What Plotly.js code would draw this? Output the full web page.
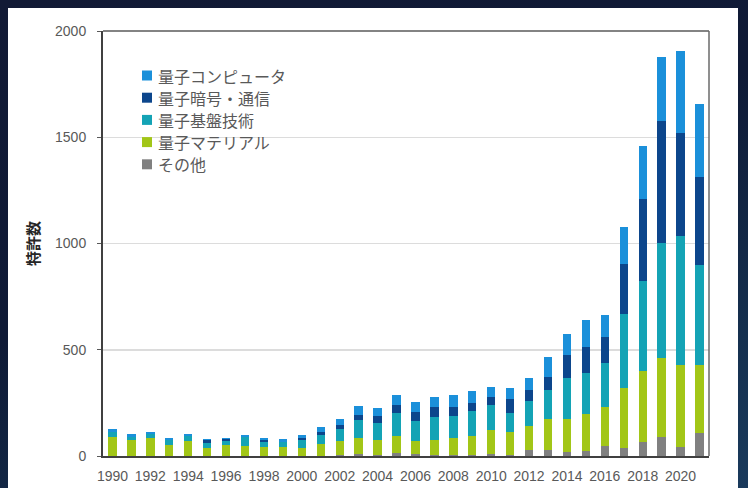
<!DOCTYPE html>
<html>
<head>
<meta charset="utf-8">
<script src="https://cdn.plot.ly/plotly-3.0.1.min.js"></script>
<style>
  html, body { margin: 0; padding: 0; width: 748px; height: 488px; overflow: hidden; }
  body {
    background: linear-gradient(160deg, #121a35 0%, #0f1a36 45%, #15304f 80%, #1a3a5c 100%);
    position: relative;
  }
  #chart { position: absolute; left: 8px; top: 8px; width: 730px; height: 480px; background: #ffffff; }
</style>
</head>
<body>
<div id="chart"></div>
<script>
// ---- data ----
const years = [1990,1991,1992,1993,1994,1995,1996,1997,1998,1999,
               2000,2001,2002,2003,2004,2005,2006,2007,2008,2009,
               2010,2011,2012,2013,2014,2015,2016,2017,2018,2019,2020,2021];

const seriesNames = ["その他", "量子マテリアル", "量子基盤技術", "量子暗号・通信", "量子コンピュータ"];

const other = [0,0,0,0,0,0,0,0,0,0,
               0,0,3,8,3,14,8,3,3,3,
               8,6,28,28,20,23,47,39,66,88,41,110];

const materials = [88,75,86,52,70,39,53,47,44,42,
                   40,58,68,79,73,81,63,73,81,89,
                   115,105,113,146,155,175,185,282,333,372,385,318];

const foundation = [25,16,19,22,23,20,17,41,22,23,
                    36,43,58,81,79,107,92,107,106,119,
                    115,92,117,135,192,194,208,349,423,541,607,471];

const cryptoComm = [2,0,0,3,0,14,9,3,9,2,
                    8,11,16,24,32,36,46,46,41,38,
                    38,63,52,64,106,120,120,235,388,577,487,416];

const computer = [13,13,9,6,9,6,8,9,9,11,
                  16,25,28,43,41,47,47,51,57,58,
                  49,52,55,92,99,130,102,174,250,302,387,341];

const yTicks = [0, 500, 1000, 1500, 2000];
const xTicks = [1990,1992,1994,1996,1998,2000,2002,2004,2006,2008,2010,2012,2014,2016,2018,2020];

// ---- styling ----
const colors = ["#808080", "#a2c617", "#14a3b5", "#0c468c", "#1b90da"];
const values = [other, materials, foundation, cryptoComm, computer];

const traces = values.map((v, i) => ({
  type: "bar",
  x: years,
  y: v,
  name: seriesNames[i],
  marker: { color: colors[i], line: { width: 0 } },
  showlegend: false,
  hoverinfo: "x+y+name"
}));

// legend drawn as key squares + labels (top entry = top of the stack)
const plotW = 606, plotH = 425;            // plot area size in px
const keyLeftPx = 39, keySizePx = 10, textLeftPx = 54;
const rowTopPx = 44.5, rowStepPx = 22.2;   // px from the top of the plot area
const shapes = [];
const annotations = [];
for (let k = 0; k < seriesNames.length; k++) {
  const i = seriesNames.length - 1 - k;
  const cy = 1 - (rowTopPx + k * rowStepPx) / plotH;
  const hh = (keySizePx / 2) / plotH;
  shapes.push({
    type: "rect", xref: "paper", yref: "paper",
    x0: keyLeftPx / plotW, x1: (keyLeftPx + keySizePx) / plotW,
    y0: cy - hh, y1: cy + hh,
    fillcolor: colors[i], line: { width: 0 }
  });
  annotations.push({
    xref: "paper", yref: "paper",
    x: textLeftPx / plotW, y: cy,
    xanchor: "left", yanchor: "middle",
    text: seriesNames[i], showarrow: false, borderpad: 0,
    font: { family: "Noto Sans CJK JP, sans-serif", size: 16, color: "#595959" }
  });
}
shapes.push(
  { type: "line", xref: "paper", yref: "paper", x0: 0, x1: 1, y0: 1, y1: 1,
    line: { color: "#5a5a5a", width: 1.5 } },
  { type: "line", xref: "paper", yref: "paper", x0: 1, x1: 1, y0: 0, y1: 1,
    line: { color: "#6a6a6a", width: 1.5 } }
);

const tickFont = { family: "Liberation Sans, Arial, sans-serif", size: 14, color: "#595959" };

const layout = {
  width: 730,
  height: 480,
  margin: { l: 95, r: 29, t: 23, b: 32, pad: 0 },
  paper_bgcolor: "#ffffff",
  plot_bgcolor: "#ffffff",
  barmode: "stack",
  bargap: 0.56,
  showlegend: false,
  xaxis: {
    range: [1989.5, 2021.5],
    tickmode: "array",
    tickvals: xTicks,
    ticktext: xTicks.map(String),
    ticks: "",
    ticklabelstandoff: 6,
    tickfont: tickFont,
    showgrid: false,
    zeroline: false,
    showline: true,
    linecolor: "#404040",
    linewidth: 2,
    fixedrange: true
  },
  yaxis: {
    range: [0, 2000],
    tickmode: "array",
    tickvals: yTicks,
    ticktext: yTicks.map(String),
    ticks: "outside",
    ticklen: 4,
    tickcolor: "#595959",
    ticklabelstandoff: 8,
    tickfont: tickFont,
    showgrid: true,
    gridcolor: "#dcdcdc",
    gridwidth: 1.5,
    zeroline: false,
    showline: true,
    linecolor: "#404040",
    linewidth: 2,
    title: {
      text: "<b>特許数</b>",
      font: { family: "Noto Sans CJK JP, sans-serif", size: 15, color: "#262626" },
      standoff: 12
    },
    fixedrange: true
  },
  shapes: shapes,
  annotations: annotations
};

Plotly.newPlot("chart", traces, layout, { displayModeBar: false, staticPlot: true });
</script>
</body>
</html>
